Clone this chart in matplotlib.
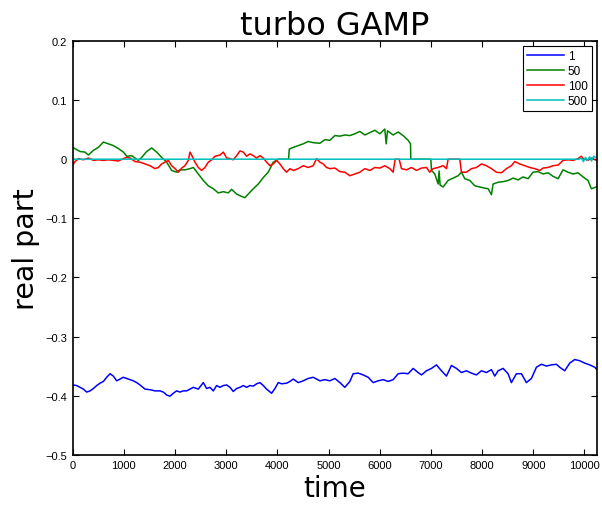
import matplotlib
matplotlib.use("Agg")
import matplotlib.pyplot as plt

# ---- data ----
labels = ["1", "50", "100", "500"]
colors = ["#0000ff", "#008000", "#ff0000", "#00bfbf"]

t_blue = [0, 78, 143, 208, 273, 339, 404, 469, 534, 599,
          664, 729, 794, 859, 925, 990, 1055, 1120, 1185, 1250,
          1315, 1413, 1510, 1608, 1706, 1771, 1836, 1901, 1966, 2031,
          2096, 2161, 2226, 2292, 2357, 2454, 2552, 2617, 2682, 2747,
          2812, 2877, 2943, 3008, 3073, 3138, 3203, 3268, 3333, 3398,
          3463, 3528, 3594, 3659, 3724, 3789, 3887, 3952, 4017, 4082,
          4180, 4245, 4310, 4407, 4505, 4602, 4700, 4830, 4928, 5025,
          5123, 5221, 5318, 5416, 5481, 5579, 5676, 5774, 5872, 5969,
          6067, 6164, 6262, 6360, 6457, 6555, 6653, 6750, 6816, 6913,
          7011, 7109, 7206, 7304, 7401, 7499, 7597, 7694, 7792, 7890,
          7987, 8085, 8183, 8248, 8313, 8411, 8508, 8573, 8671, 8769,
          8866, 8964, 9062, 9159, 9257, 9354, 9452, 9517, 9615, 9713,
          9810, 9908, 10005, 10103, 10201, 10234]
v_blue = [-0.382, -0.383, -0.386, -0.389, -0.394, -0.392, -0.388, -0.383, -0.379, -0.376,
          -0.369, -0.363, -0.367, -0.375, -0.372, -0.369, -0.371, -0.373, -0.375, -0.378,
          -0.382, -0.389, -0.390, -0.392, -0.392, -0.394, -0.399, -0.401, -0.396, -0.392,
          -0.394, -0.392, -0.392, -0.389, -0.386, -0.389, -0.378, -0.388, -0.386, -0.392,
          -0.383, -0.386, -0.383, -0.382, -0.386, -0.393, -0.388, -0.386, -0.383, -0.386,
          -0.383, -0.384, -0.380, -0.378, -0.383, -0.389, -0.396, -0.388, -0.378, -0.380,
          -0.379, -0.376, -0.372, -0.378, -0.375, -0.371, -0.369, -0.375, -0.373, -0.375,
          -0.371, -0.378, -0.386, -0.376, -0.363, -0.362, -0.365, -0.369, -0.378, -0.375,
          -0.373, -0.376, -0.373, -0.363, -0.362, -0.363, -0.354, -0.361, -0.365, -0.358,
          -0.354, -0.348, -0.358, -0.367, -0.349, -0.354, -0.361, -0.358, -0.362, -0.365,
          -0.358, -0.361, -0.356, -0.367, -0.358, -0.354, -0.363, -0.378, -0.363, -0.363,
          -0.378, -0.371, -0.352, -0.347, -0.350, -0.348, -0.347, -0.352, -0.358, -0.345,
          -0.339, -0.341, -0.345, -0.348, -0.352, -0.355]

t_green = [0, 78, 143, 241, 306, 404, 501, 599, 697, 794,
           892, 990, 1055, 1152, 1217, 1282, 1348, 1445, 1543, 1641,
           1738, 1836, 1933, 2031, 2096, 2194, 2292, 2357, 2454, 2552,
           2650, 2747, 2845, 2943, 3040, 3105, 3203, 3301, 3366, 3431,
           3528, 3626, 3724, 3821, 3919, 4017, 4218, 4232, 4310, 4407,
           4505, 4602, 4700, 4830, 4928, 5025, 5123, 5221, 5318, 5416,
           5514, 5611, 5709, 5807, 5904, 6002, 6099, 6126, 6152, 6262,
           6360, 6457, 6555, 6601, 6607, 6998, 7011, 7076, 7141, 7160,
           7180, 7239, 7336, 7434, 7532, 7597, 7662, 7760, 7857, 7955,
           8052, 8118, 8183, 8215, 8313, 8411, 8508, 8606, 8703, 8801,
           8899, 8996, 9094, 9192, 9289, 9387, 9485, 9582, 9680, 9778,
           9875, 9973, 10071, 10136, 10234]
v_green = [0.020, 0.016, 0.013, 0.012, 0.007, 0.015, 0.020, 0.029, 0.026, 0.023,
           0.018, 0.012, 0.005, 0.006, 0.002, -0.002, 0.003, 0.013, 0.019, 0.012,
           0.003, -0.005, -0.019, -0.022, -0.018, -0.018, -0.016, -0.014, -0.025, -0.036,
           -0.045, -0.050, -0.057, -0.055, -0.057, -0.051, -0.059, -0.063, -0.065, -0.059,
           -0.050, -0.042, -0.031, -0.022, -0.005, 0.0, 0.0, 0.017, 0.020, 0.023,
           0.026, 0.030, 0.028, 0.027, 0.033, 0.032, 0.040, 0.039, 0.041, 0.040,
           0.043, 0.047, 0.041, 0.045, 0.049, 0.043, 0.051, 0.026, 0.048, 0.041,
           0.046, 0.040, 0.032, 0.026, 0.0, 0.0, -0.019, -0.025, -0.042, -0.020,
           -0.044, -0.047, -0.036, -0.032, -0.028, -0.022, -0.033, -0.036, -0.045, -0.047,
           -0.049, -0.050, -0.060, -0.042, -0.039, -0.038, -0.036, -0.032, -0.035, -0.030,
           -0.033, -0.022, -0.021, -0.025, -0.023, -0.029, -0.033, -0.018, -0.022, -0.025,
           -0.023, -0.030, -0.036, -0.050, -0.047]

t_red = [0, 46, 111, 208, 306, 404, 501, 599, 697, 794,
         892, 990, 1055, 1120, 1217, 1315, 1413, 1510, 1608, 1673,
         1738, 1803, 1868, 1933, 1999, 2064, 2129, 2194, 2259, 2292,
         2324, 2389, 2454, 2519, 2584, 2650, 2715, 2780, 2877, 2943,
         3008, 3073, 3138, 3203, 3268, 3333, 3398, 3463, 3528, 3594,
         3659, 3724, 3789, 3854, 3919, 3984, 4049, 4114, 4179, 4245,
         4310, 4407, 4505, 4602, 4700, 4765, 4830, 4895, 4960, 5025,
         5123, 5221, 5318, 5416, 5514, 5611, 5709, 5807, 5904, 6002,
         6099, 6197, 6262, 6301, 6379, 6425, 6523, 6620, 6718, 6816,
         6913, 6978, 7043, 7141, 7239, 7304, 7336, 7564, 7597, 7694,
         7792, 7890, 7987, 8085, 8183, 8280, 8378, 8476, 8573, 8638,
         8736, 8834, 8931, 9029, 9127, 9192, 9289, 9387, 9485, 9582,
         9680, 9778, 9875, 9940, 9973, 10071, 10136, 10234]
v_red = [-0.010, -0.004, 0.001, -0.001, 0.002, -0.002, -0.001, -0.002, -0.001, -0.002,
         -0.003, 0.001, 0.003, 0.002, -0.004, -0.005, -0.008, -0.011, -0.016, -0.014,
         -0.008, -0.005, -0.002, -0.011, -0.016, -0.022, -0.015, -0.011, -0.002, 0.012,
         0.007, -0.005, -0.014, -0.019, -0.014, -0.005, -0.001, 0.005, 0.007, 0.012,
         0.002, 0.001, -0.001, 0.006, 0.014, 0.012, 0.005, 0.009, 0.006, 0.002,
         0.006, 0.002, -0.005, -0.011, -0.008, -0.002, -0.008, -0.016, -0.022, -0.016,
         -0.019, -0.016, -0.011, -0.014, -0.011, 0.001, -0.005, -0.008, -0.014, -0.016,
         -0.015, -0.021, -0.022, -0.028, -0.025, -0.022, -0.016, -0.019, -0.014, -0.015,
         -0.011, -0.016, -0.022, 0.0, 0.0, -0.016, -0.018, -0.014, -0.019, -0.015,
         -0.014, -0.022, -0.016, -0.014, -0.011, -0.016, 0.0, 0.0, -0.022, -0.022,
         -0.016, -0.014, -0.008, -0.011, -0.016, -0.022, -0.023, -0.016, -0.011, -0.004,
         -0.008, -0.011, -0.014, -0.016, -0.019, -0.015, -0.014, -0.011, -0.010, -0.002,
         -0.001, -0.002, 0.001, 0.005, 0.001, -0.002, 0.002, -0.002]

t_cyan = [0, 9900, 9940, 9980, 10020, 10060, 10100, 10140, 10180, 10234]
v_cyan = [0.0, 0.0, 0.002, -0.004, 0.003, -0.002, 0.004, -0.003, 0.005, 0.002]

x_ticks = [0, 1000, 2000, 3000, 4000, 5000, 6000, 7000, 8000, 9000, 10000]
y_ticks = [-0.5, -0.4, -0.3, -0.2, -0.1, 0, 0.1, 0.2]
y_ticklabels = ["\u22120.5", "\u22120.4", "\u22120.3", "\u22120.2", "\u22120.1", "0", "0.1", "0.2"]

# ---- figure ----
fig = plt.figure(figsize=(6.02, 5.06), dpi=100)
ax = fig.add_axes([0.1208, 0.0994, 0.8704, 0.8176])

series = [(t_blue, v_blue), (t_green, v_green), (t_red, v_red), (t_cyan, v_cyan)]
for (t, v), c, lab in zip(series, colors, labels):
    ax.plot(t, v, color=c, lw=1.1, label=lab)

ax.set_xlim(0, 10240)
ax.set_ylim(-0.5, 0.2)
ax.set_xticks(x_ticks)
ax.set_xticklabels([str(x) for x in x_ticks], fontsize=8, family="Liberation Sans")
ax.set_yticks(y_ticks)
ax.set_yticklabels(y_ticklabels, fontsize=8, family="Liberation Sans")
ax.tick_params(direction="in", length=4, width=0.8, top=True, right=True, pad=4)
for s in ax.spines.values():
    s.set_linewidth(1.2)

ax.set_title("turbo GAMP", fontsize=23, family="DejaVu Sans", pad=5)
ax.set_xlabel("time", fontsize=20, family="DejaVu Sans", labelpad=3)
ax.set_ylabel("real part", fontsize=20.5, family="DejaVu Sans", labelpad=4)

leg = ax.legend(loc="upper right", fancybox=False, framealpha=1, edgecolor="black",
                prop={"family": "Liberation Sans", "size": 8.5}, handlelength=3.1,
                labelspacing=0.25, borderaxespad=0.4, borderpad=0.35, handletextpad=0.35)
leg.get_frame().set_linewidth(0.8)

fig.savefig("out.png", dpi=100)
